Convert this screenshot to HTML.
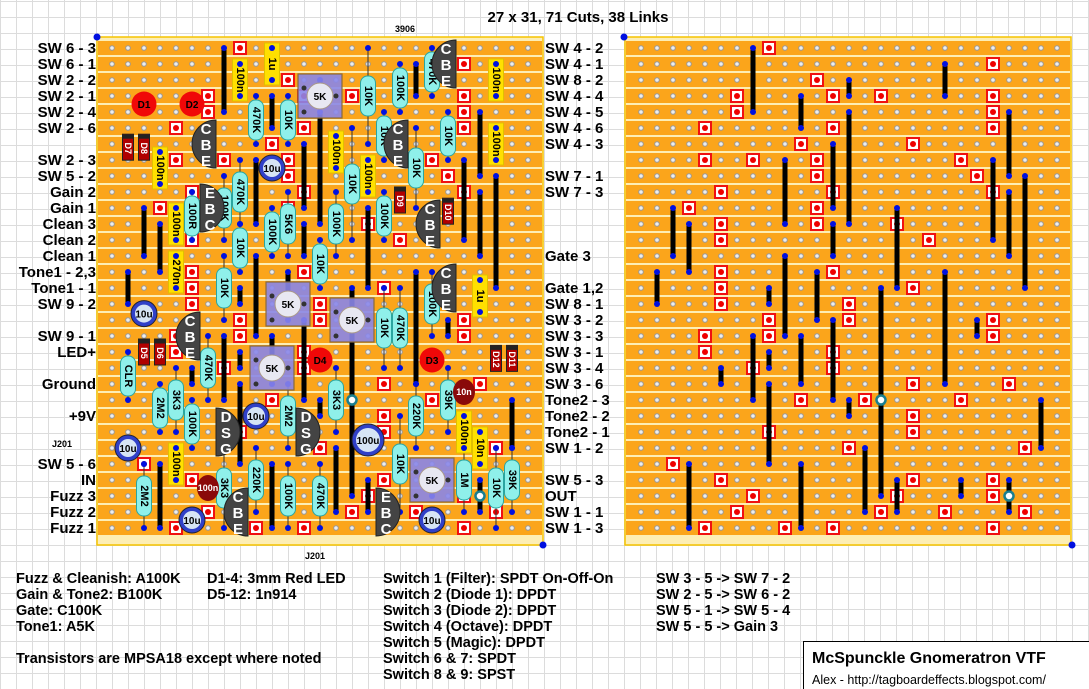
<!DOCTYPE html>
<html><head><meta charset="utf-8">
<style>
html,body{margin:0;padding:0;}
body{width:1089px;height:689px;overflow:hidden;background-color:#fff;
background-image:linear-gradient(to right,#dcdcdc 1px,transparent 1px),linear-gradient(to bottom,#dcdcdc 1px,transparent 1px);
background-size:16px 16px;background-position:0 1px;font-family:"Liberation Sans",sans-serif;}
svg{position:absolute;left:0;top:0;}
.lb{font:bold 15px "Liberation Sans",sans-serif;fill:#000;}
.ft{font:bold 14.5px "Liberation Sans",sans-serif;fill:#000;}
</style></head><body>
<svg id="s" width="1089" height="689" xmlns="http://www.w3.org/2000/svg">
<text x="578" y="22" text-anchor="middle" class="lb">27 x 31, 71 Cuts, 38 Links</text>
<text x="405" y="32" text-anchor="middle" style="font:bold 9px 'Liberation Sans',sans-serif">3906</text>
<text x="315" y="559" text-anchor="middle" style="font:bold 9px 'Liberation Sans',sans-serif">J201</text>
<g id="b1"></g><g id="b2"></g>
<g text-anchor="end" class="lb">
<text x="96" y="53">SW 6 - 3</text><text x="96" y="69">SW 6 - 1</text><text x="96" y="85">SW 2 - 2</text>
<text x="96" y="101">SW 2 - 1</text><text x="96" y="117">SW 2 - 4</text><text x="96" y="133">SW 2 - 6</text>
<text x="96" y="165">SW 2 - 3</text><text x="96" y="181">SW 5 - 2</text><text x="96" y="197">Gain 2</text>
<text x="96" y="213">Gain 1</text><text x="96" y="229">Clean 3</text><text x="96" y="245">Clean 2</text>
<text x="96" y="261">Clean 1</text><text x="96" y="277">Tone1 - 2,3</text><text x="96" y="293">Tone1 - 1</text>
<text x="96" y="309">SW 9 - 2</text><text x="96" y="341">SW 9 - 1</text><text x="96" y="357">LED+</text>
<text x="96" y="389">Ground</text><text x="96" y="421">+9V</text>
<text x="72" y="447" style="font:bold 9px 'Liberation Sans',sans-serif">J201</text>
<text x="96" y="469">SW 5 - 6</text><text x="96" y="485">IN</text><text x="96" y="501">Fuzz 3</text>
<text x="96" y="517">Fuzz 2</text><text x="96" y="533">Fuzz 1</text>
</g>
<g class="lb">
<text x="545" y="53">SW 4 - 2</text><text x="545" y="69">SW 4 - 1</text><text x="545" y="85">SW 8 - 2</text>
<text x="545" y="101">SW 4 - 4</text><text x="545" y="117">SW 4 - 5</text><text x="545" y="133">SW 4 - 6</text>
<text x="545" y="149">SW 4 - 3</text><text x="545" y="181">SW 7 - 1</text><text x="545" y="197">SW 7 - 3</text>
<text x="545" y="261">Gate 3</text><text x="545" y="293">Gate 1,2</text><text x="545" y="309">SW 8 - 1</text>
<text x="545" y="325">SW 3 - 2</text><text x="545" y="341">SW 3 - 3</text><text x="545" y="357">SW 3 - 1</text>
<text x="545" y="373">SW 3 - 4</text><text x="545" y="389">SW 3 - 6</text><text x="545" y="405">Tone2 - 3</text>
<text x="545" y="421">Tone2 - 2</text><text x="545" y="437">Tone2 - 1</text><text x="545" y="453">SW 1 - 2</text>
<text x="545" y="485">SW 5 - 3</text><text x="545" y="501">OUT</text><text x="545" y="517">SW 1 - 1</text>
<text x="545" y="533">SW 1 - 3</text>
</g>
<g class="ft">
<text x="16" y="583">Fuzz &amp; Cleanish: A100K</text>
<text x="16" y="599">Gain &amp; Tone2: B100K</text>
<text x="16" y="615">Gate: C100K</text>
<text x="16" y="631">Tone1: A5K</text>
<text x="16" y="663">Transistors are MPSA18 except where noted</text>
<text x="207" y="583">D1-4: 3mm Red LED</text>
<text x="207" y="599">D5-12: 1n914</text>
<text x="383" y="583">Switch 1 (Filter): SPDT On-Off-On</text>
<text x="383" y="599">Switch 2 (Diode 1): DPDT</text>
<text x="383" y="615">Switch 3 (Diode 2): DPDT</text>
<text x="383" y="631">Switch 4 (Octave): DPDT</text>
<text x="383" y="647">Switch 5 (Magic): DPDT</text>
<text x="383" y="663">Switch 6 &amp; 7: SPDT</text>
<text x="383" y="679">Switch 8 &amp; 9: SPST</text>
<text x="656" y="583">SW 3 - 5 -&gt; SW 7 - 2</text>
<text x="656" y="599">SW 2 - 5 -&gt; SW 6 - 2</text>
<text x="656" y="615">SW 5 - 1 -&gt; SW 5 - 4</text>
<text x="656" y="631">SW 5 - 5 -&gt; Gain 3</text>
</g>
<rect x="803.5" y="641.5" width="290" height="52" fill="#fff" stroke="#000" stroke-width="1"/>
<text x="812" y="663" style="font:bold 16px 'Liberation Sans',sans-serif">McSpunckle Gnomeratron VTF</text>
<text x="812" y="684" style="font:12.5px 'Liberation Sans',sans-serif">Alex - http://tagboardeffects.blogspot.com/</text>
</svg>
<script>
var NS="http://www.w3.org/2000/svg";
function el(p,t,a,txt){var e=document.createElementNS(NS,t);for(var k in a)e.setAttribute(k,a[k]);if(txt!==undefined)e.textContent=txt;p.appendChild(e);return e;}
var cuts=[[8,0],[22,1],[11,2],[6,3],[12,3],[15,3],[22,3],[6,4],[22,4],[4,5],[12,5],[22,5],[10,6],[17,6],[4,7],[7,7],[11,7],[20,7],[11,8],[21,8],[5,9],[12,9],[22,9],[3,10],[11,10],[5,11],[11,11],[16,11],[5,12],[18,12],[5,14],[12,14],[5,15],[17,15],[5,16],[13,16],[8,17],[13,17],[22,17],[4,18],[8,18],[22,18],[4,19],[12,19],[7,20],[12,20],[17,21],[23,21],[10,22],[14,22],[20,22],[17,23],[8,24],[17,24],[13,25],[24,25],[2,26],[5,27],[17,27],[22,27],[7,28],[16,28],[22,28],[6,29],[15,29],[19,29],[24,29],[4,30],[9,30],[12,30],[22,30]];
var links=[[7,0,4],[19,1,3],[13,2,3],[10,3,5],[13,4,11],[23,4,8],[12,6,10],[9,7,11],[22,7,12],[24,8,15],[23,9,13],[2,10,13],[3,11,14],[16,10,15],[12,11,13],[1,14,16],[9,13,18],[11,14,17],[19,14,21],[8,15,16],[15,15,28],[12,17,22],[7,18,22],[8,19,20],[10,18,21],[5,20,21],[8,21,26],[13,22,23],[21,17,18],[25,22,25],[3,26,30],[10,26,30],[14,25,29],[16,27,29],[20,27,28],[23,27,29]];
function board(g,bx,hx,comps){
 el(g,"rect",{x:bx,y:37,width:446,height:508,fill:"#fdeeb5",stroke:"#f5c400","stroke-width":1.5});
 for(var r=0;r<31;r++){el(g,"rect",{x:bx+1,y:48+16*r-7,width:444,height:14,fill:"#fba51b"});
  for(var c=0;c<27;c++)el(g,"circle",{cx:hx+16*c,cy:48+16*r,r:2.3,fill:"#eee",stroke:"#999","stroke-width":1});}
 var X=function(c){return hx+16*c},Y=function(r){return 48+16*r};
 cuts.forEach(function(q){el(g,"rect",{x:X(q[0])-6,y:Y(q[1])-6,width:12,height:12,fill:"#fff",stroke:"#f01010","stroke-width":2});el(g,"circle",{cx:X(q[0]),cy:Y(q[1]),r:3,fill:"#e00"});});
 links.forEach(function(q){el(g,"line",{x1:X(q[0]),y1:Y(q[1]),x2:X(q[0]),y2:Y(q[2]),stroke:"#000","stroke-width":5});
  el(g,"circle",{cx:X(q[0]),cy:Y(q[1]),r:3,fill:"#0010e0"});el(g,"circle",{cx:X(q[0]),cy:Y(q[2]),r:3,fill:"#0010e0"});});
 [[15,22],[23,28]].forEach(function(q){el(g,"circle",{cx:X(q[0]),cy:Y(q[1]),r:4.5,fill:"#fff",stroke:"#1a7f8f","stroke-width":2.5});});
 if(comps)comps(g,X,Y);
}
function vtext(g,x,y,t,fill,size){el(g,"text",{x:0,y:0,transform:"translate("+x+","+y+") rotate(90)","text-anchor":"middle","dominant-baseline":"central",style:"font:bold "+(size||11)+"px 'Liberation Sans',sans-serif",fill:fill||"#000"},t);}
function dot(g,x,y){el(g,"circle",{cx:x,cy:y,r:3,fill:"#0010e0"});}
function comps(g,X,Y){
 var res=[[9,3,6,"470K"],[11,3,6,"10K"],[16,0,6,"10K"],[18,1,4,"100K"],[20,0,3,"470K"],[17,4,7,"10K"],[19,5,10,"10K"],[21,4,7,"10K"],[5,9,12,"100R"],[7,8,12,"100K"],[8,7,11,"470K"],[15,5,12,"10K"],[8,11,14,"10K"],[10,10,13,"100K"],[11,9,13,"5K6"],[13,12,15,"10K"],[14,9,13,"100K"],[17,9,12,"100K"],[7,13,17,"10K"],[6,18,22,"470K"],[1,19,22,"CLR"],[3,21,24,"2M2"],[4,20,24,"3K3"],[5,22,25,"100K"],[11,21,25,"2M2"],[14,20,24,"3K3"],[17,15,20,"10K"],[18,15,20,"470K"],[20,14,18,"100K"],[19,21,25,"220K"],[21,20,24,"39K"],[18,23,29,"10K"],[2,26,30,"2M2"],[7,25,30,"3K3"],[9,25,29,"220K"],[11,26,30,"100K"],[13,26,30,"470K"],[22,25,29,"1M"],[24,25,30,"10K"],[25,25,29,"39K"]];
 res.forEach(function(q){var x=X(q[0]),y1=Y(q[1]),y2=Y(q[2]),cy=(y1+y2)/2;
  el(g,"line",{x1:x,y1:y1,x2:x,y2:y2,stroke:"#333","stroke-width":1});dot(g,x,y1);dot(g,x,y2);
  el(g,"rect",{x:x-7.5,y:cy-20,width:15,height:40,rx:7,fill:"#8ff0ea",stroke:"#2aa5a0","stroke-width":1});
  vtext(g,x,cy,q[3]);});
 var caps=[[8,2,"100n"],[10,1,"1u"],[24,2,"100n"],[24,6,"100n"],[3,7.5,"100n"],[14,6.5,"100n"],[16,8,"100n"],[4,11,"100n"],[4,14,"270n"],[23,15.5,"1u"],[22,24,"100n"],[23,25,"10n"],[4,26,"100n"]];
 caps.forEach(function(q){var x=X(q[0]),cy=Y(q[1]);
  el(g,"rect",{x:x-7.5,y:cy-21,width:15,height:42,fill:"#ffe000",stroke:"#e0c000","stroke-width":1});
  dot(g,x,cy-16);dot(g,x,cy+16);vtext(g,x,cy,q[2]);});
 [[10,7.5,13,"10u"],[2,16.6,13,"10u"],[9,23,13,"10u"],[1,25,13,"10u"],[16,24.5,16,"100u"],[5,29.5,13,"10u"],[20,29.5,13,"10u"]].forEach(function(q){var x=X(q[0]),y=Y(q[1]);
  el(g,"circle",{cx:x,cy:y,r:q[2],fill:"#3040c8",stroke:"#223","stroke-width":1});
  el(g,"circle",{cx:x,cy:y,r:q[2]-4,fill:"#d6e4f4"});
  el(g,"text",{x:x,y:y+4,"text-anchor":"middle",style:"font:bold 10px 'Liberation Sans',sans-serif"},q[3]);});
 [[2,3.5,"D1"],[5,3.5,"D2"],[13,19.5,"D4"],[20,19.5,"D3"]].forEach(function(q){var x=X(q[0]),y=Y(q[1]);
  el(g,"circle",{cx:x,cy:y,r:12.5,fill:"#f00808"});el(g,"text",{x:x,y:y+4,"text-anchor":"middle",style:"font:bold 10px 'Liberation Sans',sans-serif"},q[2]);});
 [[1,6.2,"D7"],[2,6.2,"D8"],[18,9.5,"D9"],[21,10.2,"D10"],[2,19,"D5"],[3,19,"D6"],[24,19.4,"D12"],[25,19.4,"D11"]].forEach(function(q){var x=X(q[0]),y=Y(q[1]);
  el(g,"rect",{x:x-5.5,y:y-13,width:11,height:26,fill:"#b00000",stroke:"#222","stroke-width":1});
  el(g,"rect",{x:x-5,y:y-12.5,width:10,height:4,fill:"#222"});vtext(g,x,y+1,q[2],"#fff",9);});
 [[22,21.5,"10n"],[6,27.5,"100n"]].forEach(function(q){var x=X(q[0]),y=Y(q[1]);
  el(g,"ellipse",{cx:x,cy:y,rx:11,ry:13,fill:"#8a0a0a"});el(g,"text",{x:x,y:y+3,"text-anchor":"middle",fill:"#fff",style:"font:bold 9px 'Liberation Sans',sans-serif"},q[2]);});
 [[13,3],[11,16],[10,20],[15,17],[20,27]].forEach(function(q){var x=X(q[0]),y=Y(q[1]);
  el(g,"rect",{x:x-22,y:y-22,width:44,height:44,fill:"#8a86e8","fill-opacity":0.9,stroke:"#8a6a3a","stroke-width":1.2});
  el(g,"circle",{cx:x-16,cy:y-8,r:2.5,fill:"#333"});el(g,"circle",{cx:x-16,cy:y+16,r:2.5,fill:"#333"});el(g,"circle",{cx:x+16,cy:y,r:2.5,fill:"#333"});
  el(g,"circle",{cx:x,cy:y,r:13,fill:"#e8e8f2",stroke:"#a98","stroke-width":1});
  el(g,"text",{x:x,y:y+4,"text-anchor":"middle",style:"font:bold 10px 'Liberation Sans',sans-serif"},"5K");});
 [[6,6,-1,"CBE"],[6,10,1,"EBC"],[18,6,-1,"CBE"],[21,1,-1,"CBE"],[20,11,-1,"CBE"],[21,15,-1,"CBE"],[5,18,-1,"CBE"],[7,24,1,"DSG"],[12,24,1,"DSG"],[8,29,-1,"CBE"],[17,29,1,"EBC"]].forEach(function(q){var x=X(q[0]),y=Y(q[1]),d=q[2];
  var fx=x-d*8;
  el(g,"path",{d:"M"+fx+","+(y-24)+" A24,24 0 0,"+(d<0?0:1)+" "+fx+","+(y+24)+" Z",fill:"#444",stroke:"#222","stroke-width":1});
  for(var i=0;i<3;i++)el(g,"text",{x:x+d*2,y:y-16+16*i+6,"text-anchor":"middle",fill:"#fff",style:"font:bold 15px 'Liberation Sans',sans-serif"},q[3][i]);});
}
board(document.getElementById("b1"),97,112,comps);
board(document.getElementById("b2"),625,641,null);
var s=document.getElementById("s");
[[97,37],[543,545],[624,37],[1072,545]].forEach(function(p){el(s,"circle",{cx:p[0],cy:p[1],r:3.5,fill:"#0010e0"});});
</script>
</body></html>
